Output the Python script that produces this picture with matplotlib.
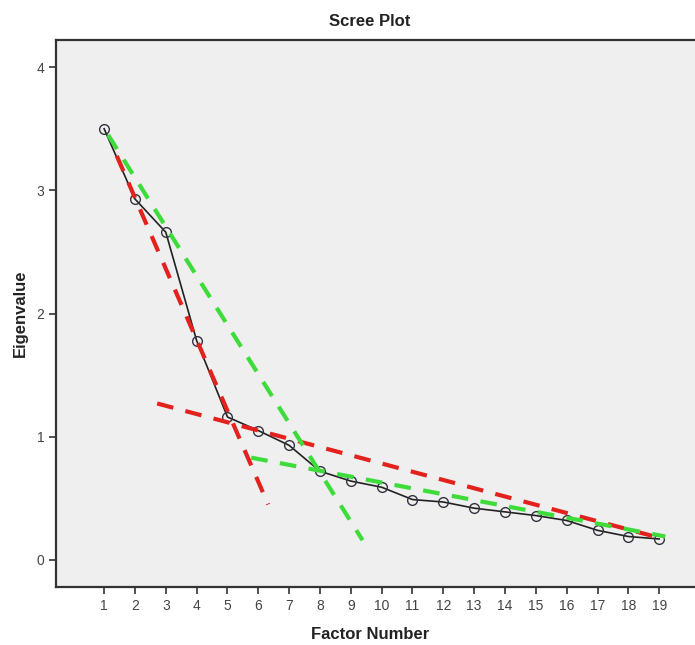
import matplotlib
matplotlib.use("Agg")
import matplotlib.pyplot as plt

plt.rcParams['font.family'] = ['Liberation Sans', 'DejaVu Sans']

# eigenvalues
factors = list(range(1, 20))
eigenvalues = [3.50, 2.93, 2.66, 1.78, 1.16, 1.05, 0.93, 0.72, 0.64, 0.59,
               0.49, 0.47, 0.42, 0.39, 0.36, 0.32, 0.24, 0.19, 0.17]

# hand-drawn fit lines (start / end points)
red_steep_x = [1.41, 6.32]
red_steep_y = [3.28, 0.45]
red_flat_x = [2.72, 19.0]
red_flat_y = [1.27, 0.18]
green_steep_x = [1.13, 9.38]
green_steep_y = [3.45, 0.16]
green_flat_x = [5.77, 19.2]
green_flat_y = [0.83, 0.19]

fig = plt.figure(figsize=(6.95, 6.45), dpi=100)
ax = fig.add_axes([0.0806, 0.0899, 0.93, 0.848])
ax.set_facecolor('#efefef')

ax.plot(factors, eigenvalues, color='#222222', lw=1.2, marker='o', ms=7,
        mfc='none', mec='#333340', mew=1.0, zorder=3)

dash = dict(lw=3, linestyle=(0, (4, 3)), zorder=4, solid_capstyle='butt')
ax.plot(red_steep_x, red_steep_y, color='#e3211d', **dash)
ax.plot(red_flat_x, red_flat_y, color='#e3211d', **dash)
ax.plot(green_steep_x, green_steep_y, color='#3ddc3a', **dash)
ax.plot(green_flat_x, green_flat_y, color='#3ddc3a', **dash)

ax.set_xlim(-0.56, 20.4)
ax.set_ylim(-0.22, 4.22)
ax.set_xticks(factors)
ax.set_yticks([0, 1, 2, 3, 4])
ax.tick_params(direction='out', length=5, width=1.2, labelsize=10,
               labelcolor='#444444', color='#333333')
for side in ['left', 'bottom', 'top']:
    ax.spines[side].set_linewidth(1.6)
    ax.spines[side].set_color('#333333')
ax.spines['right'].set_visible(False)

fig.text(0.532, 0.967, 'Scree Plot', ha='center', va='center',
         fontsize=12, fontweight='bold', color='#222222')
fig.text(0.532, 0.016, 'Factor Number', ha='center', va='center',
         fontsize=12, fontweight='bold', color='#222222')
fig.text(0.030, 0.515, 'Eigenvalue', ha='center', va='center', rotation=90,
         fontsize=12, fontweight='bold', color='#222222')

fig.savefig('out.png', dpi=100)
